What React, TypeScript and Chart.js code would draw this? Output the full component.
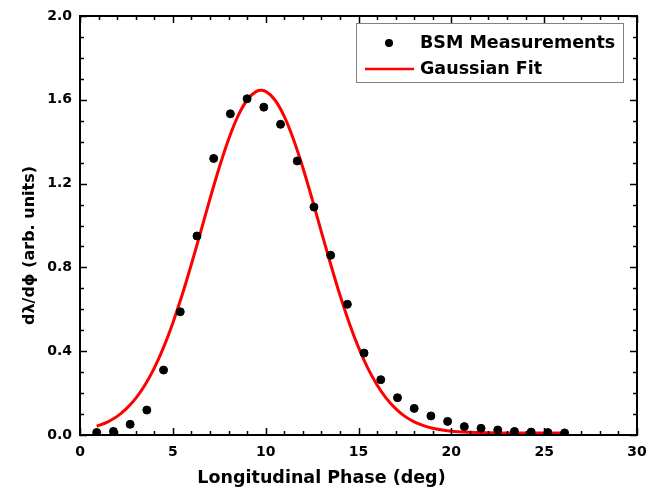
import React, { useEffect, useRef } from "react";
import { Chart, registerables } from "chart.js";

Chart.register(...registerables);

// BSM measurement points
const measX = [0.9, 1.8, 2.7, 3.6, 4.5, 5.4, 6.3, 7.2, 8.1, 9.0, 9.9, 10.8, 11.7, 12.6, 13.5, 14.4, 15.3, 16.2, 17.1, 18.0, 18.9, 19.8, 20.7, 21.6, 22.5, 23.4, 24.3, 25.2, 26.1];
const measY = [0.012, 0.017, 0.051, 0.119, 0.31, 0.588, 0.95, 1.32, 1.533, 1.605, 1.565, 1.483, 1.308, 1.088, 0.858, 0.624, 0.391, 0.264, 0.178, 0.127, 0.091, 0.065, 0.040, 0.032, 0.024, 0.017, 0.014, 0.012, 0.010];

// Gaussian fit curve
const fitX = [0.9, 1.5, 2, 2.5, 3, 3.5, 4, 4.5, 5, 5.5, 6, 6.5, 7, 7.5, 8, 8.5, 9, 9.5, 9.75, 10, 10.5, 11, 11.5, 12, 12.5, 13, 13.5, 14, 14.5, 15, 15.5, 16, 16.5, 17, 17.5, 18, 18.5, 19, 19.5, 20, 21, 22, 23, 24, 25, 26.1];
const fitY = [0.042, 0.063, 0.089, 0.126, 0.175, 0.239, 0.319, 0.418, 0.535, 0.668, 0.815, 0.97, 1.127, 1.277, 1.411, 1.521, 1.599, 1.64, 1.645, 1.64, 1.599, 1.521, 1.411, 1.277, 1.127, 0.97, 0.815, 0.668, 0.535, 0.418, 0.319, 0.239, 0.175, 0.126, 0.089, 0.063, 0.045, 0.032, 0.024, 0.018, 0.013, 0.011, 0.010, 0.010, 0.010, 0.010];

const xTitle = "Longitudinal Phase (deg)";
const yTitle = "dλ/dϕ (arb. units)";
const legendLabels = ["BSM Measurements", "Gaussian Fit"];

const X_MIN = 0, X_MAX = 30, X_STEP = 5, X_MINOR = 1;
const Y_MIN = 0, Y_MAX = 2, Y_STEP = 0.4, Y_MINOR = 0.1;

const FONT = "'DejaVu Sans', sans-serif";
const RED = "#ff0000";

const framePlugin = {
  id: "frame",
  afterDraw(chart: any) {
    const ctx = chart.ctx;
    const { left, right, top, bottom } = chart.chartArea;
    const xs = chart.scales.x;
    const ys = chart.scales.y;
    ctx.save();
    ctx.strokeStyle = "#000";
    ctx.lineWidth = 2;
    ctx.strokeRect(left, top, right - left, bottom - top);
    ctx.lineWidth = 1.5;
    ctx.beginPath();
    const nx = Math.round((X_MAX - X_MIN) / X_MINOR);
    for (let i = 0; i <= nx; i++) {
      const v = X_MIN + i * X_MINOR;
      const major = Math.abs(v / X_STEP - Math.round(v / X_STEP)) < 1e-6;
      const len = major ? 7 : 4;
      const px = Math.round(xs.getPixelForValue(v)) + 0.5;
      ctx.moveTo(px, bottom);
      ctx.lineTo(px, bottom - len);
      ctx.moveTo(px, top);
      ctx.lineTo(px, top + len);
    }
    const ny = Math.round((Y_MAX - Y_MIN) / Y_MINOR);
    for (let i = 0; i <= ny; i++) {
      const v = Y_MIN + i * Y_MINOR;
      const major = Math.abs(v / Y_STEP - Math.round(v / Y_STEP)) < 1e-6;
      const len = major ? 7 : 4;
      const py = Math.round(ys.getPixelForValue(v)) + 0.5;
      ctx.moveTo(left, py);
      ctx.lineTo(left + len, py);
      ctx.moveTo(right, py);
      ctx.lineTo(right - len, py);
    }
    ctx.stroke();

    // axis titles
    ctx.fillStyle = "#000";
    ctx.font = `bold 17.5px ${FONT}`;
    ctx.textAlign = "center";
    ctx.textBaseline = "alphabetic";
    ctx.fillText(xTitle, chart.width / 2 - 2, 483);
    ctx.save();
    ctx.translate(30, (top + bottom) / 2 + 20);
    ctx.rotate(-Math.PI / 2);
    ctx.font = `bold 16px ${FONT}`;
    ctx.textBaseline = "middle";
    ctx.fillText(yTitle, 0, 0);
    ctx.restore();

    // legend
    const bx = right - 281;
    const by = top + 7;
    const bw = 267;
    const bh = 59;
    ctx.fillStyle = "#fff";
    ctx.fillRect(bx, by, bw, bh);
    ctx.strokeStyle = "#808080";
    ctx.lineWidth = 1;
    ctx.strokeRect(bx + 0.5, by + 0.5, bw, bh);
    ctx.fillStyle = "#000";
    ctx.beginPath();
    ctx.arc(bx + 33, by + 20, 4, 0, Math.PI * 2);
    ctx.fill();
    ctx.strokeStyle = RED;
    ctx.lineWidth = 2.5;
    ctx.beginPath();
    ctx.moveTo(bx + 9, by + 46);
    ctx.lineTo(bx + 58, by + 46);
    ctx.stroke();
    ctx.fillStyle = "#000";
    ctx.font = `bold 17.5px ${FONT}`;
    ctx.textAlign = "left";
    ctx.textBaseline = "middle";
    ctx.fillText(legendLabels[0], bx + 64, by + 20);
    ctx.fillText(legendLabels[1], bx + 64, by + 46);
    ctx.restore();
  },
};

export default function App() {
  const ref = useRef<HTMLCanvasElement | null>(null);
  useEffect(() => {
    document.body.style.margin = "0";
    const canvas = ref.current;
    if (!canvas) return;
    const chart = new Chart(canvas, {
      type: "scatter",
      data: {
        datasets: [
          {
            label: legendLabels[0],
            data: measX.map((x, i) => ({ x, y: measY[i] })),
            backgroundColor: "#000",
            borderColor: "#000",
            pointRadius: 4,
            pointHoverRadius: 4,
            showLine: false,
          },
          {
            label: legendLabels[1],
            data: fitX.map((x, i) => ({ x, y: fitY[i] })),
            borderColor: RED,
            backgroundColor: RED,
            borderWidth: 3,
            pointRadius: 0,
            showLine: true,
            cubicInterpolationMode: "monotone",
          },
        ],
      },
      options: {
        responsive: false,
        animation: false,
        layout: { padding: { top: 16, right: 10, left: 0, bottom: 0 } },
        plugins: { legend: { display: false }, tooltip: { enabled: false } },
        scales: {
          x: {
            type: "linear",
            min: X_MIN,
            max: X_MAX,
            grid: { display: false, drawTicks: false },
            border: { display: false },
            ticks: {
              stepSize: X_STEP,
              padding: 9,
              color: "#000",
              font: { family: FONT, size: 14, weight: "bold" },
              maxRotation: 0,
              autoSkip: false,
            },
            afterFit(scale: any) {
              scale.height = 54;
              scale.paddingLeft = 0;
              scale.paddingRight = 0;
            },
          },
          y: {
            type: "linear",
            min: Y_MIN,
            max: Y_MAX,
            grid: { display: false, drawTicks: false },
            border: { display: false },
            ticks: {
              stepSize: Y_STEP,
              padding: 8,
              color: "#000",
              font: { family: FONT, size: 14, weight: "bold" },
              callback: (v: any) => Number(v).toFixed(1),
            },
            afterFit(scale: any) {
              scale.width = 80;
              scale.paddingTop = 0;
              scale.paddingBottom = 0;
            },
          },
        },
      } as any,
      plugins: [framePlugin],
    });
    return () => chart.destroy();
  }, []);
  return (
    <div style={{ width: 647, height: 489 }}>
      <canvas ref={ref} width={647} height={489} />
    </div>
  );
}
